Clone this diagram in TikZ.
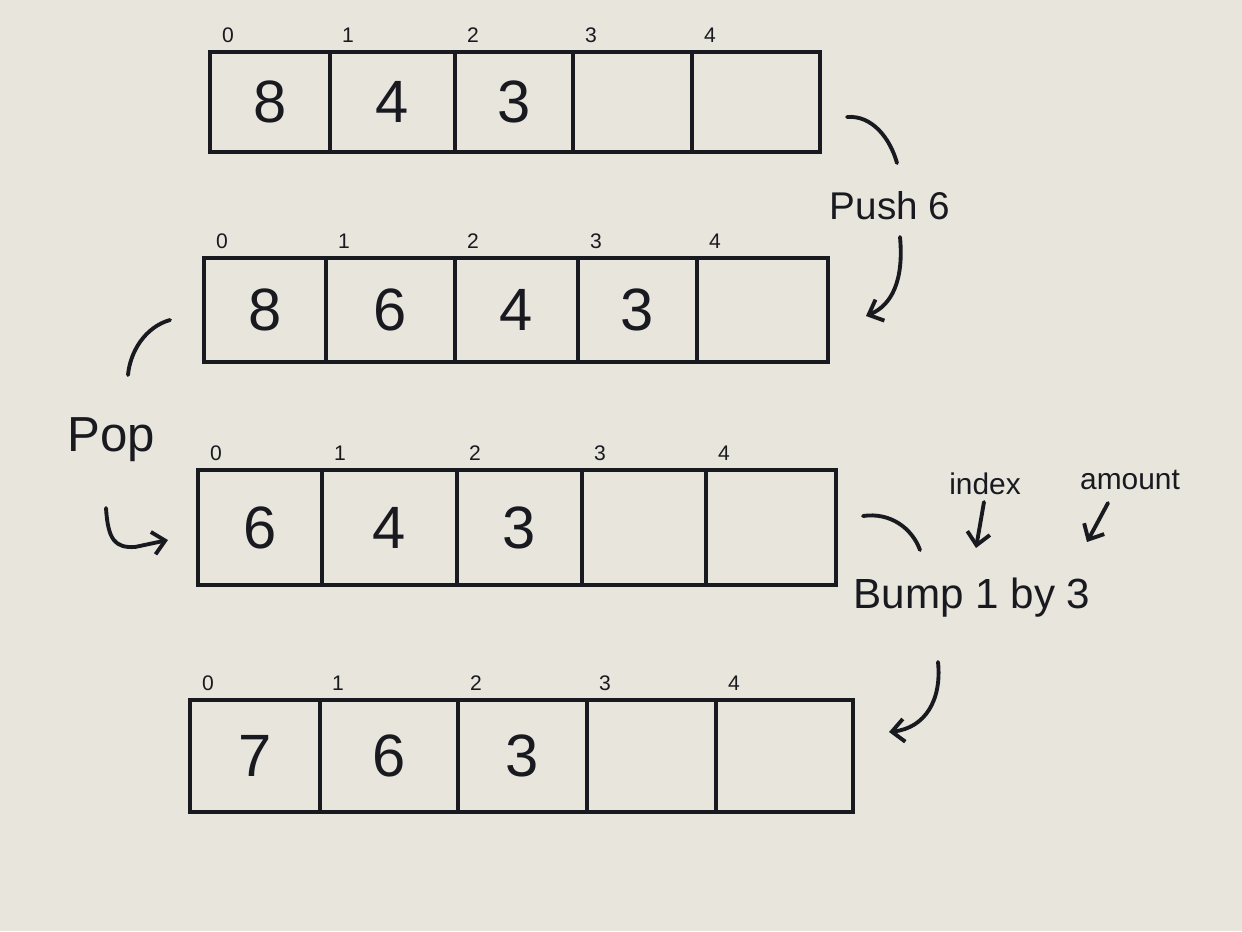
\documentclass[tikz,border=0pt]{standalone}
\usepackage{fontspec}
\setmainfont{Liberation Sans}
\usetikzlibrary{fit,arrows.meta}
\definecolor{paper}{RGB}{232,229,220}
\definecolor{ink}{RGB}{25,25,32}
\tikzset{
  cell/.style={draw=ink, line width=2.6pt, inner sep=0pt},
  val/.style={text=ink, inner sep=0pt, font=\fontsize{34}{40}\selectfont},
  idx/.style={text=ink, inner sep=1pt, font=\fontsize{12}{14}\selectfont},
  hand/.style={draw=ink, line width=2.2pt, line cap=round},
  harrow/.style={hand, -{Straight Barb[length=7pt,width=13pt]}},
  lbl/.style={text=ink, inner sep=0pt},
}
\newcommand\arrayrow[4]{%
  \foreach \a/\b/\v [count=\i from 0] in {#4} {%
    \node[cell, fit={(\a,#2) (\b,#3)}, label={[val]center:\v}] (#1c\i) {};
    \node[idx] (#1i\i) at (\a+18,#2-17) {\i};
  }%
}
\begin{document}
\begin{tikzpicture}[x=0.02cm,y=-0.02cm]
  \fill[paper] (0,0) rectangle (1242,931);
  \useasboundingbox (0,0) rectangle (1242,931);

  % arrays
  \arrayrow{r1}{52}{152}{210/330/8, 330/455/4, 455/573/3, 573/692/{}, 692/820/{}}
  \arrayrow{r2}{258}{362}{204/326/8, 326/455/6, 455/578/4, 578/697/3, 697/828/{}}
  \arrayrow{r3}{470}{585}{198/322/6, 322/457/4, 457/582/3, 582/706/{}, 706/836/{}}
  \arrayrow{r4}{700}{812}{190/320/7, 320/458/6, 458/587/3, 587/716/{}, 716/853/{}}

  % Push 6
  \node[lbl, font=\fontsize{22}{26}\selectfont] (push) at (890,206) {Push 6};
  \coordinate (pa) at (847,117);
  \coordinate (pb) at (897,163);
  \coordinate (pc) at (900,237);
  \coordinate (pd) at (866,316);
  \draw[hand] (pa) .. controls (872,115) and (890,138) .. (pb);
  \draw[harrow] (pc) .. controls (904,280) and (892,305) .. (pd);

  % Pop
  \node[lbl, font=\fontsize{28}{32}\selectfont] (pop) at (111,440) {Pop};
  \coordinate (qa) at (170,320);
  \coordinate (qb) at (128,375);
  \coordinate (qc) at (106,508);
  \coordinate (qd) at (168,540);
  \draw[hand] (qa) .. controls (145,327) and (130,352) .. (qb);
  \draw[harrow] (qc) .. controls (108,540) and (115,548) .. (135,547) -- (qd);

  % Bump 1 by 3
  \node[lbl, font=\fontsize{24}{28}\selectfont] (bump) at (972,598) {Bump 1 by 3};
  \node[lbl, font=\fontsize{17}{20}\selectfont] (index) at (985,484) {index};
  \node[lbl, font=\fontsize{17}{20}\selectfont] (amount) at (1130,480) {amount};
  \coordinate (ia) at (984,502);
  \coordinate (ib) at (976,548);
  \coordinate (aa) at (1108,503);
  \coordinate (ab) at (1087,542);
  \draw[harrow] (ia) -- (ib);
  \draw[harrow] (aa) -- (ab);
  \coordinate (ba) at (863,516);
  \coordinate (bb) at (920,550);
  \coordinate (bc) at (938,662);
  \coordinate (bd) at (889,732);
  \draw[hand] (ba) .. controls (890,512) and (912,528) .. (bb);
  \draw[harrow] (bc) .. controls (942,700) and (925,728) .. (bd);
\end{tikzpicture}
\end{document}
